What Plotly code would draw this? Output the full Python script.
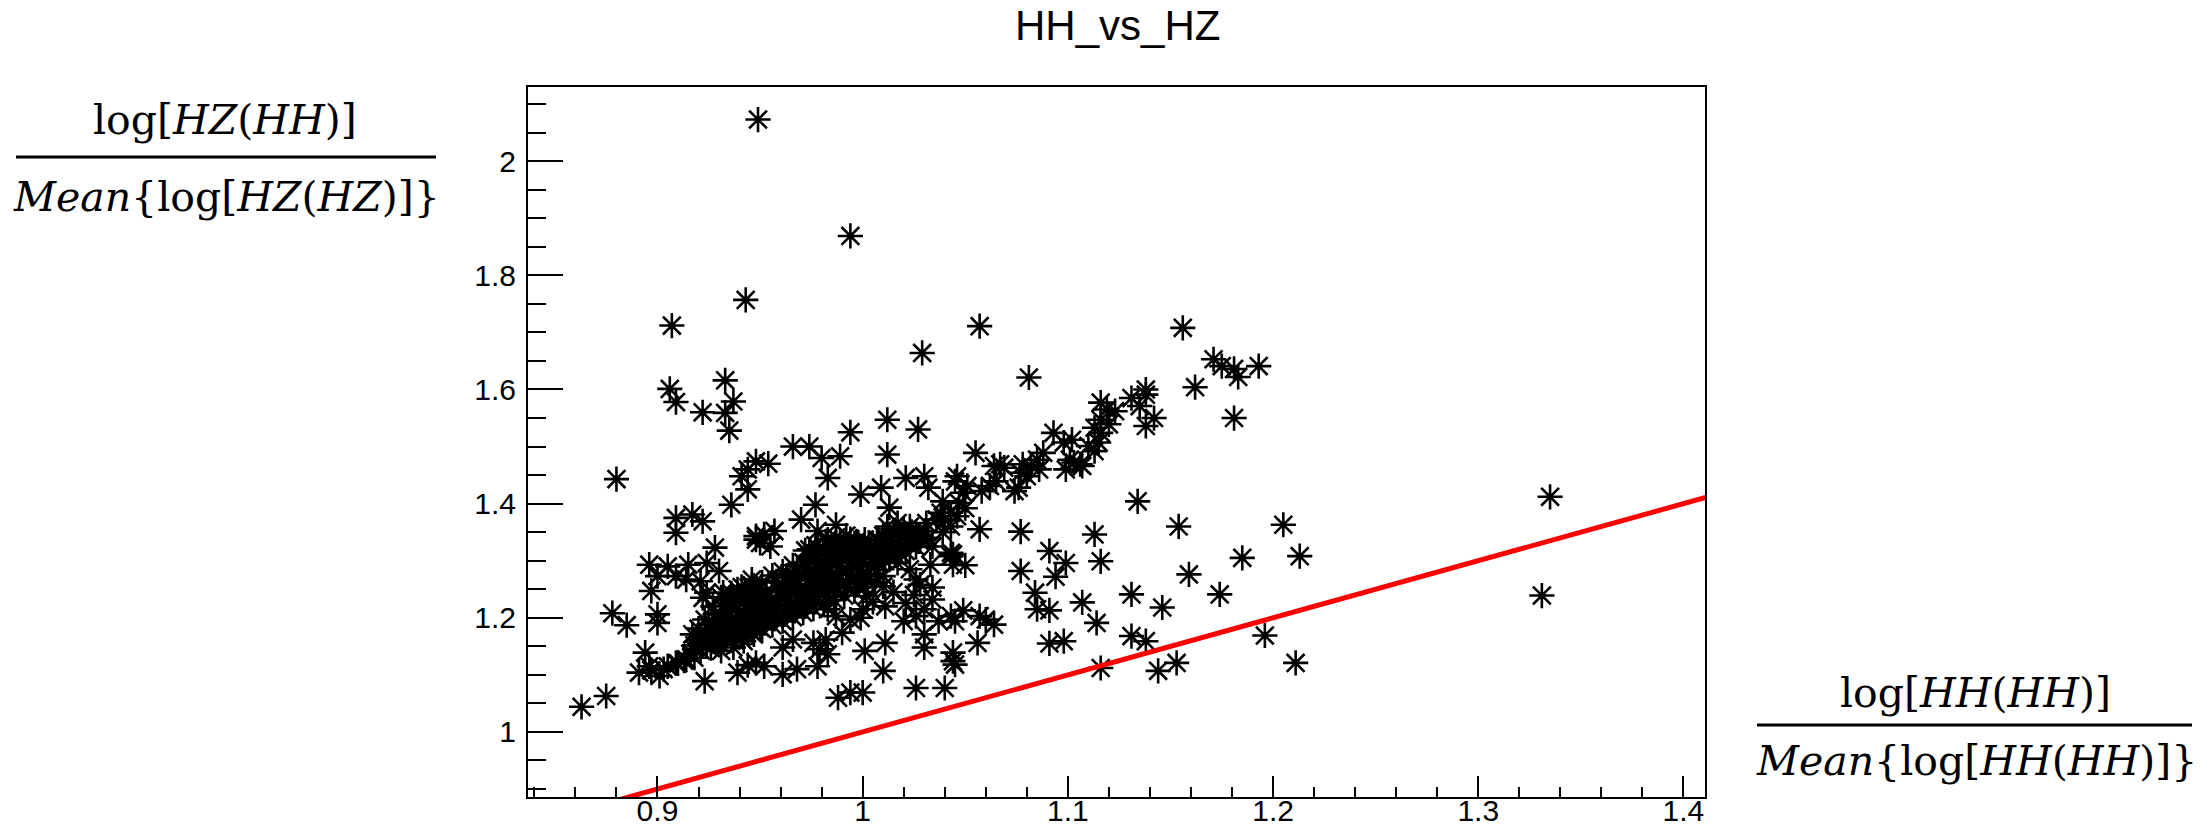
import plotly.graph_objects as go

# ---------------- data ----------------
title_text = "HH_vs_HZ"

x_range = [0.8369, 1.4105]
y_range = [0.886, 2.130]
x_tick_vals = [0.9, 1.0, 1.1, 1.2, 1.3, 1.4]
x_tick_text = ["0.9", "1", "1.1", "1.2", "1.3", "1.4"]
y_tick_vals = [1.0, 1.2, 1.4, 1.6, 1.8, 2.0]
y_tick_text = ["1", "1.2", "1.4", "1.6", "1.8", "2"]

# reference line y = x
diag_x = [0.80, 1.50]
diag_y = [0.80, 1.50]

top_outliers = [
    (0.949, 2.073), (0.994, 1.869), (0.943, 1.757), (0.907, 1.712), (1.057, 1.711),
    (1.156, 1.708), (1.029, 1.664), (1.081, 1.621), (1.171, 1.653), (1.175, 1.641),
    (1.181, 1.636), (1.183, 1.622), (1.193, 1.641), (1.162, 1.604), (1.181, 1.550),
    (1.335, 1.412), (1.331, 1.239),
]

upper_left = [
    (0.933, 1.616), (0.906, 1.601), (0.909, 1.578), (0.922, 1.560), (0.937, 1.579),
    (0.933, 1.559), (0.935, 1.528), (1.012, 1.547), (1.027, 1.530), (0.994, 1.525),
    (1.012, 1.486), (0.966, 1.500), (0.974, 1.500), (0.980, 1.480), (0.989, 1.483),
    (0.954, 1.470), (0.948, 1.474), (0.944, 1.460), (0.941, 1.448), (0.880, 1.443),
    (1.046, 1.448), (0.983, 1.445),
]

upper_trend = [
    (1.055, 1.489), (1.138, 1.600), (1.138, 1.591), (1.135, 1.571), (1.131, 1.585),
    (1.142, 1.550), (1.138, 1.536), (1.116, 1.577), (1.119, 1.565), (1.123, 1.562),
    (1.116, 1.547), (1.120, 1.539), (1.113, 1.533), (1.116, 1.524), (1.115, 1.507),
    (1.113, 1.492), (1.110, 1.501), (1.102, 1.512), (1.093, 1.524), (1.098, 1.507),
    (1.103, 1.472), (1.107, 1.466), (1.099, 1.460), (1.088, 1.489), (1.085, 1.477),
    (1.082, 1.466), (1.086, 1.460), (1.078, 1.469), (1.077, 1.454), (1.080, 1.448),
    (1.067, 1.469), (1.064, 1.466), (1.069, 1.463), (1.076, 1.428), (1.074, 1.422),
    (1.065, 1.439), (1.062, 1.431), (1.058, 1.422), (1.051, 1.431), (1.049, 1.419),
    (1.045, 1.439), (1.039, 1.404), (1.047, 1.401), (1.021, 1.445), (1.030, 1.448),
    (1.032, 1.428), (1.038, 1.384), (1.043, 1.384), (1.101, 1.477), (1.106, 1.469),
]

lower_right = [
    (1.134, 1.404), (1.154, 1.360), (1.205, 1.363), (1.213, 1.308), (1.185, 1.305),
    (1.159, 1.276), (1.174, 1.241), (1.131, 1.241), (1.146, 1.218), (1.113, 1.346),
    (1.116, 1.299), (1.077, 1.351), (1.091, 1.317), (1.099, 1.296), (1.094, 1.272),
    (1.077, 1.282), (1.084, 1.244), (1.085, 1.215), (1.091, 1.213), (1.107, 1.227),
    (1.114, 1.191), (1.131, 1.168), (1.138, 1.159), (1.153, 1.121), (1.144, 1.107),
    (1.116, 1.112), (1.091, 1.155), (1.098, 1.159), (1.196, 1.169), (1.211, 1.121),
    (1.057, 1.355), (1.044, 1.311), (1.050, 1.292), (1.049, 1.213), (1.045, 1.194),
    (1.057, 1.203), (1.064, 1.188), (1.060, 1.197), (1.056, 1.156), (1.044, 1.139),
    (1.045, 1.118), (1.040, 1.077), (1.040, 1.372), (1.046, 1.378), (1.043, 1.360),
    (1.050, 1.392), (1.039, 1.350),
]

left_cluster = [
    (0.944, 1.425), (0.936, 1.398), (0.909, 1.375), (0.917, 1.381), (0.922, 1.369),
    (0.909, 1.349), (0.928, 1.323), (0.896, 1.293), (0.905, 1.290), (0.915, 1.293),
    (0.924, 1.296), (0.930, 1.282), (0.900, 1.273), (0.909, 1.273), (0.914, 1.267),
    (0.921, 1.264), (0.897, 1.247), (0.922, 1.235), (0.927, 1.220), (0.932, 1.244),
    (0.939, 1.250), (0.946, 1.267), (0.948, 1.337), (0.878, 1.208), (0.885, 1.187),
    (0.900, 1.206), (0.900, 1.191), (0.894, 1.139), (0.891, 1.104), (0.896, 1.115),
    (0.903, 1.110), (0.901, 1.098), (0.909, 1.121), (0.914, 1.127), (0.923, 1.089),
    (0.939, 1.104), (0.944, 1.117), (0.875, 1.063), (0.863, 1.044), (0.905, 1.115),
    (0.910, 1.120), (0.913, 1.125), (0.897, 1.108), (0.918, 1.130),
    (0.919, 1.150), (0.924, 1.159), (0.929, 1.165), (0.934, 1.174), (0.939, 1.185),
    (0.944, 1.194), (0.948, 1.203), (0.931, 1.142), (0.937, 1.148), (0.942, 1.159),
    (0.947, 1.171), (0.950, 1.183), (0.934, 1.226), (0.940, 1.232), (0.945, 1.226),
    (0.950, 1.215), (0.950, 1.238), (0.924, 1.244),
]

center_cluster = [
    (0.999, 1.416), (1.009, 1.428), (1.013, 1.393), (0.977, 1.398), (0.970, 1.372),
    (0.952, 1.346), (0.950, 1.331), (0.955, 1.325), (0.948, 1.343), (0.957, 1.352),
    (0.987, 1.363), (0.978, 1.352), (0.974, 1.320), (0.983, 1.337), (0.991, 1.325),
    (0.997, 1.334), (0.999, 1.308), (1.007, 1.337), (1.012, 1.360), (1.017, 1.366),
    (1.023, 1.360), (1.021, 1.346), (1.026, 1.346), (1.031, 1.366), (1.036, 1.372),
    (1.034, 1.325), (1.043, 1.314), (1.033, 1.293), (1.013, 1.314), (1.017, 1.296),
    (1.023, 1.285), (1.010, 1.273), (1.010, 1.255), (1.026, 1.267), (1.034, 1.253),
    (1.034, 1.232), (1.021, 1.226), (1.030, 1.215), (1.020, 1.194), (1.011, 1.220),
    (1.000, 1.215), (0.999, 1.200), (0.994, 1.197), (1.002, 1.238), (0.987, 1.203),
    (0.983, 1.215), (0.990, 1.174), (0.982, 1.162), (0.976, 1.156), (0.966, 1.162),
    (0.961, 1.148), (0.979, 1.145), (0.983, 1.136), (0.978, 1.115), (0.968, 1.110),
    (0.961, 1.101), (0.952, 1.115), (0.948, 1.121), (1.001, 1.142), (1.011, 1.156),
    (1.030, 1.171), (1.030, 1.148), (1.010, 1.107), (1.026, 1.077), (1.044, 1.124),
    (0.988, 1.060), (0.994, 1.069), (1.000, 1.069), (1.037, 1.194), (1.043, 1.203),
    (1.026, 1.203), (1.043, 1.308), (1.044, 1.293), (1.015, 1.245), (1.025, 1.240),
    (1.005, 1.228), (1.028, 1.258),
]

dense_band = [
    (0.916, 1.137), (0.918, 1.152), (0.917, 1.171),
    (0.921, 1.143), (0.922, 1.161), (0.920, 1.181), (0.923, 1.197),
    (0.926, 1.147), (0.927, 1.168), (0.925, 1.188), (0.928, 1.206),
    (0.931, 1.153), (0.932, 1.176), (0.930, 1.194), (0.933, 1.213), (0.931, 1.236),
    (0.936, 1.160), (0.937, 1.182), (0.935, 1.203), (0.938, 1.221), (0.936, 1.243),
    (0.941, 1.167), (0.942, 1.190), (0.940, 1.211), (0.943, 1.229), (0.941, 1.254),
    (0.946, 1.174), (0.947, 1.197), (0.945, 1.213), (0.948, 1.238), (0.946, 1.257),
    (0.951, 1.180), (0.952, 1.203), (0.950, 1.224), (0.953, 1.246), (0.951, 1.262),
    (0.956, 1.187), (0.957, 1.209), (0.955, 1.232), (0.958, 1.251), (0.956, 1.274),
    (0.961, 1.194), (0.962, 1.217), (0.960, 1.236), (0.963, 1.262), (0.961, 1.281),
    (0.966, 1.201), (0.967, 1.224), (0.965, 1.247), (0.968, 1.266), (0.966, 1.292),
    (0.971, 1.209), (0.972, 1.231), (0.970, 1.254), (0.973, 1.276), (0.971, 1.297),
    (0.972, 1.318),
    (0.976, 1.216), (0.977, 1.240), (0.975, 1.259), (0.978, 1.284), (0.976, 1.303),
    (0.977, 1.327),
    (0.981, 1.224), (0.982, 1.246), (0.980, 1.269), (0.983, 1.289), (0.981, 1.313),
    (0.982, 1.334),
    (0.986, 1.231), (0.987, 1.253), (0.985, 1.277), (0.988, 1.297), (0.986, 1.319),
    (0.987, 1.341),
    (0.991, 1.239), (0.992, 1.262), (0.990, 1.281), (0.993, 1.306), (0.991, 1.326),
    (0.992, 1.344),
    (0.996, 1.247), (0.997, 1.268), (0.995, 1.291), (0.998, 1.311), (0.996, 1.331),
    (1.001, 1.253), (1.002, 1.276), (1.000, 1.297), (1.003, 1.319), (1.001, 1.337),
    (1.006, 1.263), (1.007, 1.284), (1.005, 1.306), (1.008, 1.326),
    (1.011, 1.299), (1.012, 1.321), (1.010, 1.344),
    (1.016, 1.309), (1.017, 1.331), (1.015, 1.351),
    (1.021, 1.317), (1.022, 1.337), (1.020, 1.356),
    (1.026, 1.324), (1.027, 1.344),
]

dense_core_extra = [
    (0.918, 1.145), (0.921, 1.166), (0.924, 1.152), (0.926, 1.178), (0.929, 1.158),
    (0.929, 1.186), (0.932, 1.165), (0.934, 1.190), (0.934, 1.211), (0.937, 1.170),
    (0.939, 1.196), (0.938, 1.236), (0.942, 1.178), (0.944, 1.203), (0.943, 1.244),
    (0.947, 1.185), (0.949, 1.210), (0.948, 1.250), (0.952, 1.192), (0.954, 1.218),
    (0.953, 1.238), (0.957, 1.198), (0.959, 1.225), (0.958, 1.264), (0.962, 1.206),
    (0.964, 1.230), (0.963, 1.250), (0.963, 1.274), (0.967, 1.212), (0.969, 1.238),
    (0.968, 1.258), (0.968, 1.282), (0.972, 1.220), (0.974, 1.244), (0.974, 1.266),
    (0.973, 1.288), (0.974, 1.308), (0.977, 1.228), (0.979, 1.252), (0.979, 1.274),
    (0.978, 1.295), (0.979, 1.318), (0.982, 1.236), (0.984, 1.258), (0.984, 1.281),
    (0.983, 1.302), (0.984, 1.324), (0.987, 1.244), (0.989, 1.268), (0.989, 1.290),
    (0.988, 1.310), (0.989, 1.332), (0.992, 1.252), (0.994, 1.276), (0.994, 1.298),
    (0.993, 1.318), (0.994, 1.338), (0.997, 1.259), (0.999, 1.284), (0.999, 1.304),
    (0.998, 1.324), (1.002, 1.266), (1.004, 1.290), (1.004, 1.312), (1.003, 1.331),
    (1.007, 1.296), (1.009, 1.315), (1.008, 1.336), (1.013, 1.305), (1.014, 1.326),
    (1.013, 1.341), (1.018, 1.314), (1.019, 1.342), (1.023, 1.328), (1.024, 1.350),
    (1.028, 1.334), (1.030, 1.352), (1.032, 1.340),
]

groups = [top_outliers, upper_left, upper_trend, lower_right,
          left_cluster, center_cluster, dense_band, dense_core_extra]
pts_x = [p[0] for g in groups for p in g]
pts_y = [p[1] for g in groups for p in g]

# ---------------- layout geometry ----------------
W, H = 2210, 832
ML, MR, MT, MB = 528, 505, 87, 35
PW = W - ML - MR
PH = H - MT - MB


def px_x(px):
    return (px - ML) / PW


def px_y(py):
    return (H - MB - py) / PH


fig = go.Figure()

fig.add_trace(go.Scatter(
    x=pts_x, y=pts_y, mode="markers",
    marker=dict(symbol="asterisk-open", size=21, color="black",
                line=dict(color="black", width=2.6)),
    hoverinfo="skip", showlegend=False,
))

fig.add_trace(go.Scatter(
    x=diag_x, y=diag_y, mode="lines",
    line=dict(color="#ff0000", width=5),
    hoverinfo="skip", showlegend=False,
))

axis_common = dict(
    showgrid=False, zeroline=False, showline=True, mirror=True,
    linecolor="black", linewidth=2, automargin=False,
    ticks="inside", tickcolor="black", tickwidth=2,
    tickfont=dict(family="Liberation Sans, Arial, sans-serif", size=30, color="black"),
)

fig.update_xaxes(
    range=x_range, tickmode="array", tickvals=x_tick_vals, ticktext=x_tick_text,
    ticklen=21, ticklabelstandoff=-14,
    minor=dict(tick0=0, dtick=0.02, ticks="inside", ticklen=10,
               tickcolor="black", tickwidth=2),
    **axis_common,
)
fig.update_yaxes(
    range=y_range, tickmode="array", tickvals=y_tick_vals, ticktext=y_tick_text,
    ticklen=35, ticklabelstandoff=4,
    minor=dict(tick0=0, dtick=0.05, ticks="inside", ticklen=18,
               tickcolor="black", tickwidth=2),
    **axis_common,
)

serif = "DejaVu Serif, Liberation Serif, serif"
annotations = [
    dict(text=title_text, x=px_x(1117), y=px_y(26), xanchor="center", yanchor="middle",
         font=dict(family="Liberation Sans, Arial, sans-serif", size=42, color="black")),
    # y-axis title (fraction)
    dict(text="log[<i>HZ</i>(<i>HH</i>)]", x=px_x(225), y=px_y(120),
         xanchor="center", yanchor="middle",
         font=dict(family=serif, size=41, color="black")),
    dict(text="<i>Mean</i>{log[<i>HZ</i>(<i>HZ</i>)]}", x=px_x(226), y=px_y(197),
         xanchor="center", yanchor="middle",
         font=dict(family=serif, size=41, color="black")),
    # x-axis title (fraction)
    dict(text="log[<i>HH</i>(<i>HH</i>)]", x=px_x(1975), y=px_y(693),
         xanchor="center", yanchor="middle",
         font=dict(family=serif, size=41, color="black")),
    dict(text="<i>Mean</i>{log[<i>HH</i>(<i>HH</i>)]}", x=px_x(1976), y=px_y(761),
         xanchor="center", yanchor="middle",
         font=dict(family=serif, size=41, color="black")),
]
for a in annotations:
    a.update(xref="paper", yref="paper", showarrow=False)

shapes = [
    dict(type="line", xref="paper", yref="paper",
         x0=px_x(16), x1=px_x(436), y0=px_y(157), y1=px_y(157),
         line=dict(color="black", width=3)),
    dict(type="line", xref="paper", yref="paper",
         x0=px_x(1757), x1=px_x(2192), y0=px_y(725), y1=px_y(725),
         line=dict(color="black", width=3)),
]

fig.update_layout(
    width=W, height=H,
    margin=dict(l=ML, r=MR, t=MT, b=MB, pad=0, autoexpand=False),
    paper_bgcolor="white", plot_bgcolor="white",
    showlegend=False,
    annotations=annotations, shapes=shapes,
)

fig.write_html("out.html", config={"displayModeBar": False})
